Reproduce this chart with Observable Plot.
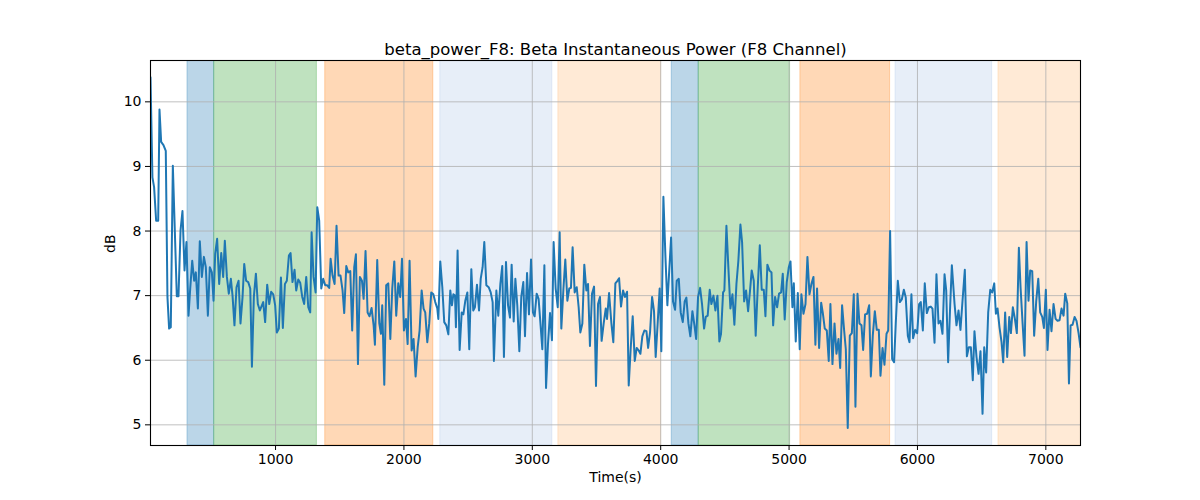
<!DOCTYPE html>
<html>
<head>
<meta charset="utf-8">
<script src="https://cdn.jsdelivr.net/npm/d3@7"></script>
<script src="https://cdn.jsdelivr.net/npm/@observablehq/plot@0.6"></script>
<style>
  html, body { margin: 0; padding: 0; background: white; }
</style>
</head>
<body>
<div id="chart"></div>
<script>
const titleText = "beta_power_F8: Beta Instantaneous Power (F8 Channel)";
const xLabel = "Time(s)";
const yLabel = "dB";
const xTicks = [1000, 2000, 3000, 4000, 5000, 6000, 7000];
const yTicks = [5, 6, 7, 8, 9, 10];

const times = [
26,41,54,70,86,96,109,127,145,158,171,184,200,231,244,260,275,291,306,322,335,351,366,379,395,410,426,442,457,473,488,504,517,530,545,561,577,592,605,621,636,652,665,680,696,712,727,743,756,771,787,803,816,831,847,862,878,
904,919,935,951,966,982,997,1010,1026,1042,1057,1073,1088,1104,1117,1132,1148,1161,1177,1192,1208,1223,1239,1255,1270,1281,1296,1312,1325,1340,1356,1371,1387,1403,1418,1429,1444,1460,1475,1491,1506,1522,1535,1551,1566,1582,1597,1613,1626,1642,1657,1673,1686,1701,1717,1732,1748,1764,1774,
1792,1808,1821,1831,1847,1862,1878,1894,1909,1925,1940,1956,1971,1985,2000,2016,2029,2044,2060,2075,2091,2107,2122,2138,2153,2166,2182,2197,2213,2229,2244,2260,2268,2283,2299,2314,2330,2346,2361,2374,2385,2398,2405,2418,2434,2450,2463,2478,2494,2509,2525,2540,2553,2569,2585,2598,2613,2626,2642,2660,2676,2691,2701,
2720,2735,2751,2766,2779,2795,2811,2826,2839,2855,2868,2883,2899,2914,2930,2943,2959,2974,2990,3005,3018,3034,3049,3062,3078,3094,3107,3122,3138,3153,3166,3182,3198,3213,3226,3242,3257,3273,3288,3301,3314,3330,3346,3361,3374,3390,3405,3421,3434,3449,3465,3481,3496,3512,3527,3540,3556,3572,3582,3598,
3616,3631,3647,3663,3676,3691,3707,3722,3738,3751,3766,3782,3798,3813,3829,3842,3857,3873,3889,3902,3917,3933,3948,3961,3977,3992,4005,4021,4037,4052,4065,4081,4096,4112,4125,4141,4156,4172,4187,4200,4216,4231,4247,4263,4276,4291,4307,4322,4338,4351,4366,4382,4395,4411,4426,4442,4457,4470,4486,
4496,4512,4527,4543,4559,4574,4590,4605,4621,4634,4650,4665,4681,4696,4709,4725,4740,4756,4772,4787,4803,4816,4831,4847,4863,4876,4891,4907,4922,4938,4951,4966,4982,4998,5011,5026,5037,5052,5068,5083,5096,5112,5128,5143,5159,5174,5190,5205,5218,5234,5250,5263,5278,5294,5309,5322,5338,5354,5369,5385,
5398,5413,5429,5442,5457,5473,5489,5504,5517,5533,5548,5564,5577,5592,5608,5624,5637,5652,5668,5683,5699,5712,5728,5743,5759,5772,5787,5803,5818,5831,5847,5863,5878,5894,5909,5925,5938,5953,5966,5982,5998,6013,6026,6042,6057,6073,6089,6104,6117,6133,6148,6164,6179,6195,6211,6224,6239,6255,6268,
6289,6304,6320,6335,6351,6369,6385,6400,6416,6431,6444,6460,6476,6491,6507,6520,6535,6551,6567,6582,6598,6611,6624,6639,6655,6668,6683,6699,6715,6728,6743,6759,6774,6790,6803,6819,6834,6850,6865,6878,6894,6909,6925,6941,6956,6972,6985,7000,7013,7029,7044,7060,7076,7091,7107,7122,7138,7151,7167,7180,7193,7208,7224,7239,7255,7270
];

const power = [
10.38,8.83,8.68,8.16,8.16,9.88,9.38,9.33,9.24,6.98,6.49,6.51,9.01,6.99,6.99,8.01,8.31,7.39,7.83,6.69,7.10,7.54,7.23,7.36,6.80,7.84,7.29,7.60,7.44,6.69,7.44,7.36,6.92,7.65,7.88,7.18,7.66,7.29,7.85,7.29,7.03,7.26,7.00,6.54,7.13,7.23,6.57,6.98,7.49,7.23,7.21,7.11,5.90,6.98,7.34,6.87,6.77,
6.90,6.59,7.17,6.87,7.06,7.02,6.85,6.43,6.49,7.28,6.50,7.18,7.23,7.62,7.66,7.21,7.40,7.08,7.25,7.20,6.98,6.87,7.29,6.82,6.74,7.98,7.29,7.05,8.37,8.16,7.11,7.26,7.16,7.16,7.12,7.57,7.31,7.18,8.08,7.31,7.31,7.08,6.73,7.46,7.36,7.38,6.46,7.44,7.64,5.94,7.29,7.23,6.95,7.69,6.74,6.68,6.81,6.54,6.24,
7.55,6.57,6.41,6.85,5.62,7.16,7.19,6.33,7.11,7.53,6.69,7.19,6.98,7.57,6.46,6.64,6.25,7.54,6.15,6.33,5.75,6.20,6.46,7.08,6.80,6.74,6.28,6.57,7.05,7.02,6.90,6.80,6.64,7.53,7.13,6.59,6.54,6.40,7.08,6.85,7.02,7.00,6.51,7.70,6.16,6.74,6.71,6.92,7.05,6.17,7.41,6.77,6.82,7.17,6.77,7.26,7.44,7.83,7.16,7.13,7.05,6.90,5.99,
7.08,6.69,7.18,7.46,6.05,7.52,6.85,6.66,7.48,6.60,7.26,6.85,6.14,6.98,7.21,6.37,7.35,6.71,7.56,6.74,6.68,7.03,6.95,6.61,6.17,7.47,5.57,6.25,6.73,6.31,7.83,7.11,6.82,7.98,6.49,7.09,7.56,6.92,7.11,7.12,7.75,7.05,7.13,6.82,6.43,6.57,7.48,7.08,7.18,6.22,7.03,7.14,5.60,6.87,6.98,6.30,6.57,6.80,6.64,7.04,
6.57,6.28,7.19,7.23,7.27,6.83,7.08,6.98,7.06,5.61,6.17,6.68,5.99,6.19,6.15,6.10,6.37,6.46,6.45,6.19,6.43,6.98,6.76,6.05,6.59,7.11,6.14,8.53,7.60,6.85,7.33,7.90,6.91,6.78,7.23,7.26,6.74,6.59,6.91,6.97,6.57,6.37,6.76,6.54,6.33,6.98,7.12,6.87,6.49,6.67,6.69,7.09,6.87,7.00,6.77,7.00,6.29,6.41,7.05,
7.08,8.08,7.44,6.80,7.02,6.55,7.18,7.54,8.10,7.83,6.91,7.08,6.76,7.08,7.39,7.23,6.38,7.13,7.78,7.09,7.09,6.68,7.48,7.39,7.36,6.54,6.98,6.82,7.03,7.05,7.34,6.63,7.21,7.44,7.53,6.82,7.19,6.29,7.04,6.17,7.02,6.72,6.87,7.60,7.02,7.18,7.29,6.24,7.11,6.19,6.89,6.73,6.49,6.46,5.99,6.87,5.94,6.57,6.10,6.33,
5.88,6.85,6.46,6.17,4.95,6.38,6.42,7.02,5.28,7.03,6.57,6.54,6.16,6.71,6.72,6.85,5.75,6.38,6.76,6.47,6.47,5.76,6.19,5.93,6.41,6.46,8.00,6.02,5.97,6.57,7.23,6.90,6.94,7.09,6.97,6.38,6.28,7.02,6.34,6.47,6.42,6.87,6.90,6.46,7.19,6.73,6.82,6.83,6.80,6.27,7.33,6.57,6.61,6.41,7.33,7.08,5.97,6.85,7.47,
6.87,6.54,6.77,6.47,6.92,7.40,6.06,6.20,6.20,5.69,6.45,6.05,5.79,6.14,5.17,6.20,5.81,6.74,7.09,7.05,7.19,6.72,6.80,6.51,6.28,5.97,6.74,6.05,6.67,6.42,6.82,6.64,6.42,7.74,7.13,6.57,6.07,7.83,6.92,7.39,7.38,6.38,6.91,7.26,6.74,6.67,6.50,7.09,6.16,6.78,6.45,6.87,6.64,6.61,6.62,6.80,6.69,7.03,6.88,5.64,6.54,6.55,6.67,6.61,6.42,6.20
];

const bandStart = [314, 522, 1387, 2283, 3203, 4086, 4296, 5088, 5829, 6631];
const bandEnd   = [522, 1322, 2229, 3156, 4003, 4296, 5008, 5787, 6582, 7300];
const bandColor = ["#1f77b4", "#2ca02c", "#ff7f0e", "#aec7e8", "#ffbb78",
                   "#1f77b4", "#2ca02c", "#ff7f0e", "#aec7e8", "#ffbb78"];

const n = Math.min(times.length, power.length);
const series = Array.from({length: n}, (_, i) => ({t: times[i], v: power[i]}));
const bands = bandStart.map((s, i) => ({start: s, end: bandEnd[i], color: bandColor[i]}));

const chart = Plot.plot({
  width: 1200,
  height: 500,
  marginLeft: 150,
  marginRight: 120,
  marginTop: 60,
  marginBottom: 55,
  style: {fontFamily: "DejaVu Sans", fontSize: "14px", color: "black", background: "white"},
  x: {domain: [26, 7270]},
  y: {domain: [4.68, 10.64]},
  color: {type: "identity"},
  marks: [
    Plot.rect(bands, {x1: "start", x2: "end", fill: "color", fillOpacity: 0.3, stroke: "color", strokeOpacity: 0.3, strokeWidth: 1, clip: true}),
    Plot.gridX(xTicks, {stroke: "#b0b0b0", strokeOpacity: 1, strokeWidth: 0.8}),
    Plot.gridY(yTicks, {stroke: "#b0b0b0", strokeOpacity: 1, strokeWidth: 0.8}),
    Plot.line(series, {x: "t", y: "v", stroke: "#1f77b4", strokeWidth: 2, clip: true}),
    Plot.frame({stroke: "black", strokeWidth: 1.1}),
    Plot.axisX(xTicks, {tickSize: 5, tickPadding: 4, label: null, tickFormat: d => String(d), fontSize: 14}),
    Plot.axisY(yTicks, {tickSize: 5, tickPadding: 4, label: null, tickFormat: d => String(d), fontSize: 14}),
    Plot.text([xLabel], {frameAnchor: "bottom", dy: 36, fontSize: 14, fill: "black"}),
    Plot.text([yLabel], {frameAnchor: "left", dx: -40, rotate: -90, fontSize: 14, fill: "black"}),
    Plot.text([titleText], {frameAnchor: "top", lineAnchor: "bottom", dy: -6, fontSize: 16.5, fill: "black"})
  ]
});
document.getElementById("chart").appendChild(chart);
</script>
</body>
</html>
